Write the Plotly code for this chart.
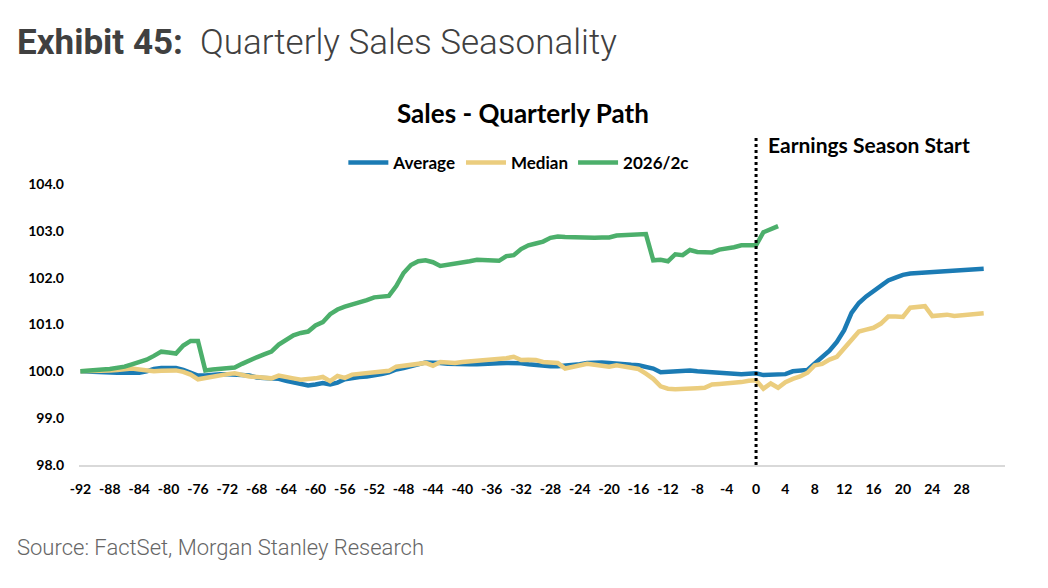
import plotly.graph_objects as go

# days relative to earnings season start
days = list(range(-92, 32))
days_cur = list(range(-92, 4))

average = [
    100.00, 99.99, 99.99, 99.98, 99.98, 99.97, 99.97, 99.96, 99.97, 100.00,
    100.05, 100.07, 100.08, 100.07, 100.03, 99.97, 99.91, 99.91, 99.93, 99.94,
    99.94, 99.94, 99.92, 99.91, 99.87, 99.86, 99.85, 99.84, 99.80, 99.77,
    99.72, 99.70, 99.72, 99.75, 99.72, 99.76, 99.83, 99.86, 99.88, 99.89,
    99.91, 99.94, 99.98, 100.04, 100.07, 100.10, 100.15, 100.19, 100.19, 100.18,
    100.16, 100.15, 100.15, 100.15, 100.15, 100.15, 100.16, 100.17, 100.18, 100.18,
    100.17, 100.15, 100.13, 100.12, 100.11, 100.11, 100.12, 100.13, 100.15, 100.18,
    100.19, 100.19, 100.18, 100.16, 100.15, 100.14, 100.13, 100.10, 100.06, 99.98,
    99.99, 100.00, 100.01, 100.02, 100.00, 99.99, 99.97, 99.97, 99.97, 99.95,
    99.94, 99.95, 99.96, 99.92, 99.92, 99.93, 99.94, 100.00, 100.01, 100.03,
    100.17, 100.30, 100.44, 100.63, 100.88, 101.25, 101.46, 101.60, 101.72, 101.85,
    101.94, 102.00, 102.06, 102.09, 102.10, 102.10, 102.11, 102.12, 102.14, 102.15,
    102.17, 102.18, 102.19, 102.19,
]

median = [
    100.00, 100.00, 100.01, 100.01, 100.02, 100.03, 100.04, 100.06, 100.04, 100.02,
    100.00, 100.01, 100.02, 100.02, 99.99, 99.93, 99.83, 99.86, 99.90, 99.92,
    99.94, 99.96, 99.92, 99.89, 99.88, 99.86, 99.85, 99.91, 99.87, 99.85,
    99.82, 99.83, 99.85, 99.88, 99.79, 99.90, 99.86, 99.93, 99.95, 99.96,
    99.98, 99.99, 100.01, 100.10, 100.12, 100.15, 100.18, 100.18, 100.12, 100.20,
    100.19, 100.18, 100.20, 100.21, 100.23, 100.24, 100.25, 100.26, 100.28, 100.31,
    100.24, 100.25, 100.24, 100.20, 100.18, 100.18, 100.06, 100.10, 100.13, 100.16,
    100.14, 100.11, 100.10, 100.13, 100.11, 100.09, 100.05, 99.95, 99.84, 99.68,
    99.63, 99.62, 99.62, 99.63, 99.64, 99.65, 99.72, 99.73, 99.74, 99.75,
    99.77, 99.80, 99.81, 99.63, 99.74, 99.65, 99.77, 99.84, 99.89, 99.97,
    100.13, 100.16, 100.25, 100.31, 100.49, 100.66, 100.85, 100.89, 100.93, 101.02,
    101.17, 101.17, 101.16, 101.36, 101.38, 101.39, 101.18, 101.20, 101.21, 101.18,
    101.19, 101.22, 101.21, 101.24,
]

current = [
    100.00, 100.02, 100.03, 100.04, 100.05, 100.07, 100.10, 100.15, 100.20, 100.25,
    100.33, 100.42, 100.40, 100.38, 100.55, 100.65, 100.65, 100.02, 100.04, 100.05,
    100.06, 100.08, 100.16, 100.24, 100.30, 100.36, 100.42, 100.57, 100.68, 100.77,
    100.82, 100.85, 100.98, 101.05, 101.22, 101.32, 101.38, 101.42, 101.46, 101.52,
    101.58, 101.60, 101.61, 101.82, 102.10, 102.27, 102.35, 102.37, 102.33, 102.25,
    102.27, 102.30, 102.33, 102.35, 102.38, 102.37, 102.35, 102.36, 102.46, 102.48,
    102.61, 102.69, 102.73, 102.77, 102.85, 102.88, 102.87, 102.86, 102.85, 102.85,
    102.85, 102.86, 102.86, 102.90, 102.91, 102.91, 102.92, 102.93, 102.37, 102.38,
    102.35, 102.50, 102.48, 102.59, 102.55, 102.54, 102.54, 102.60, 102.62, 102.65,
    102.69, 102.69, 102.69, 102.97, 103.03, 103.10,
]

x_ticks = list(range(-92, 29, 4))
y_ticks = [98, 99, 100, 101, 102, 103, 104]

fig = go.Figure()
fig.add_trace(go.Scatter(x=days, y=average, mode='lines', name='Average',
                         line=dict(color='#1b7bb4', width=4.5)))
fig.add_trace(go.Scatter(x=days, y=median, mode='lines', name='Median',
                         line=dict(color='#ebcd7e', width=4.5)))
fig.add_trace(go.Scatter(x=days_cur, y=current, mode='lines', name='2026/2c',
                         line=dict(color='#4caf6b', width=4.5)))

# earnings season start marker
fig.add_shape(type='line', xref='x', yref='paper', x0=0, x1=0, y0=0, y1=1.174,
              line=dict(color='black', width=3, dash='dot'))

fig.add_annotation(text='Earnings Season Start', xref='x', yref='paper',
                   x=1.4, y=1.14, xanchor='left', yanchor='middle', showarrow=False,
                   font=dict(family='Lato', size=21, color='black', weight='bold'))
fig.add_annotation(text='Sales - Quarterly Path', xref='paper', yref='paper',
                   x=0.479, y=1.252, xanchor='center', yanchor='middle', showarrow=False,
                   font=dict(family='Lato', size=26, color='black', weight='bold'))
fig.add_annotation(text='Source: FactSet, Morgan Stanley Research', xref='paper', yref='paper',
                   x=-0.069, y=-0.292, xanchor='left', yanchor='middle', showarrow=False,
                   font=dict(family='Roboto', size=22, color='#666666', weight=300))

fig.update_layout(
    width=1040, height=580,
    margin=dict(l=71, r=43, t=176, b=123),
    paper_bgcolor='white', plot_bgcolor='white',
    title=dict(text='<b>Exhibit 45:</b>  Quarterly Sales Seasonality',
               x=0.0087, xanchor='left', y=0.941, yanchor='middle',
               font=dict(family='Roboto', size=35, color='#404040', weight=300)),
    legend=dict(orientation='h', x=0.475, xanchor='center', y=1.075, yanchor='middle',
                font=dict(family='Lato', size=17, color='black', weight='bold'),
                itemwidth=40, bgcolor='rgba(0,0,0,0)'),
    showlegend=True,
)
fig.update_xaxes(range=[-92.2, 33.9], tickvals=x_ticks, ticktext=[str(v) for v in x_ticks],
                 showgrid=False, zeroline=False, showline=True, linecolor='#d9d9d9', linewidth=1.5,
                 ticks='', ticklabelstandoff=10,
                 tickfont=dict(family='Lato', size=14, color='black', weight='bold'))
fig.update_yaxes(range=[98, 104], tickvals=y_ticks, tickformat='.1f',
                 showgrid=False, zeroline=False, showline=False, ticks='',
                 ticklabelstandoff=14,
                 tickfont=dict(family='Lato', size=14, color='black', weight='bold'))

fig.write_html('out.html')
